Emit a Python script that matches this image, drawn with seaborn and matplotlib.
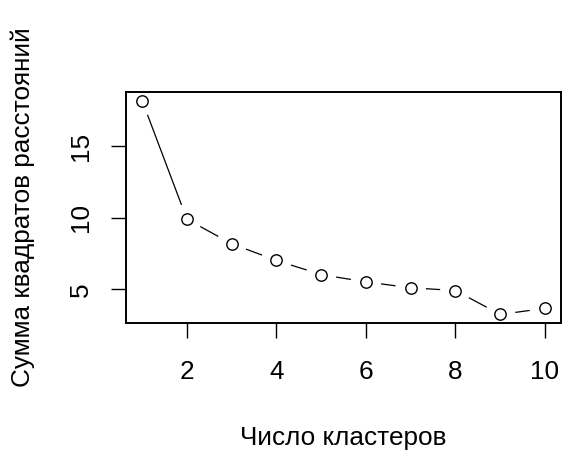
import matplotlib
matplotlib.use("Agg")
import matplotlib.pyplot as plt
import seaborn as sns

# Число кластеров и сумма квадратов расстояний
clusters = [1, 2, 3, 4, 5, 6, 7, 8, 9, 10]
wss = [18.19, 9.91, 8.19, 7.03, 6.04, 5.53, 5.12, 4.93, 3.26, 3.68]
x_ticks = [2, 4, 6, 8, 10]
y_ticks = [5, 10, 15]

sns.set_style("ticks")
plt.rcParams["font.family"] = ["Liberation Sans", "DejaVu Sans"]
plt.rcParams["text.color"] = "black"
plt.rcParams["axes.labelcolor"] = "black"

fig = plt.figure(figsize=(5.71, 4.67), dpi=100)
ax = fig.add_axes([0.2207, 0.3084, 0.9825 - 0.2207, 0.803 - 0.3084])

# type = "b": line with gaps around points
sns.lineplot(x=clusters, y=wss, color="black", linewidth=0.9, ax=ax, zorder=1)
ax.scatter(clusters, wss, s=22**2, color="white", edgecolors="none", zorder=2)
ax.scatter(clusters, wss, s=8.2**2, facecolors="white", edgecolors="black",
           linewidths=1.0, zorder=3)

span = max(wss) - min(wss)
ax.set_ylim(min(wss) - 0.04 * span, max(wss) + 0.04 * span)
ax.set_xlim(1 - 0.04 * 9, 10 + 0.04 * 9)
ax.set_xticks(x_ticks)
ax.set_yticks(y_ticks)
ax.set_yticklabels([str(v) for v in y_ticks], rotation=90, va="center")

for s in ax.spines.values():
    s.set_visible(True)
    s.set_linewidth(1.4)
    s.set_color("black")

ax.tick_params(axis="both", length=11, width=1.0, labelsize=18.8,
               colors="black", labelcolor="black")
ax.tick_params(axis="x", pad=16)
ax.tick_params(axis="y", pad=13)
ax.set_xlabel("Число кластеров", fontsize=18.8, labelpad=30, color="black")
ax.set_ylabel("Сумма квадратов расстояний", fontsize=18.8, labelpad=24, color="black")

fig.savefig("out.png", dpi=100)
